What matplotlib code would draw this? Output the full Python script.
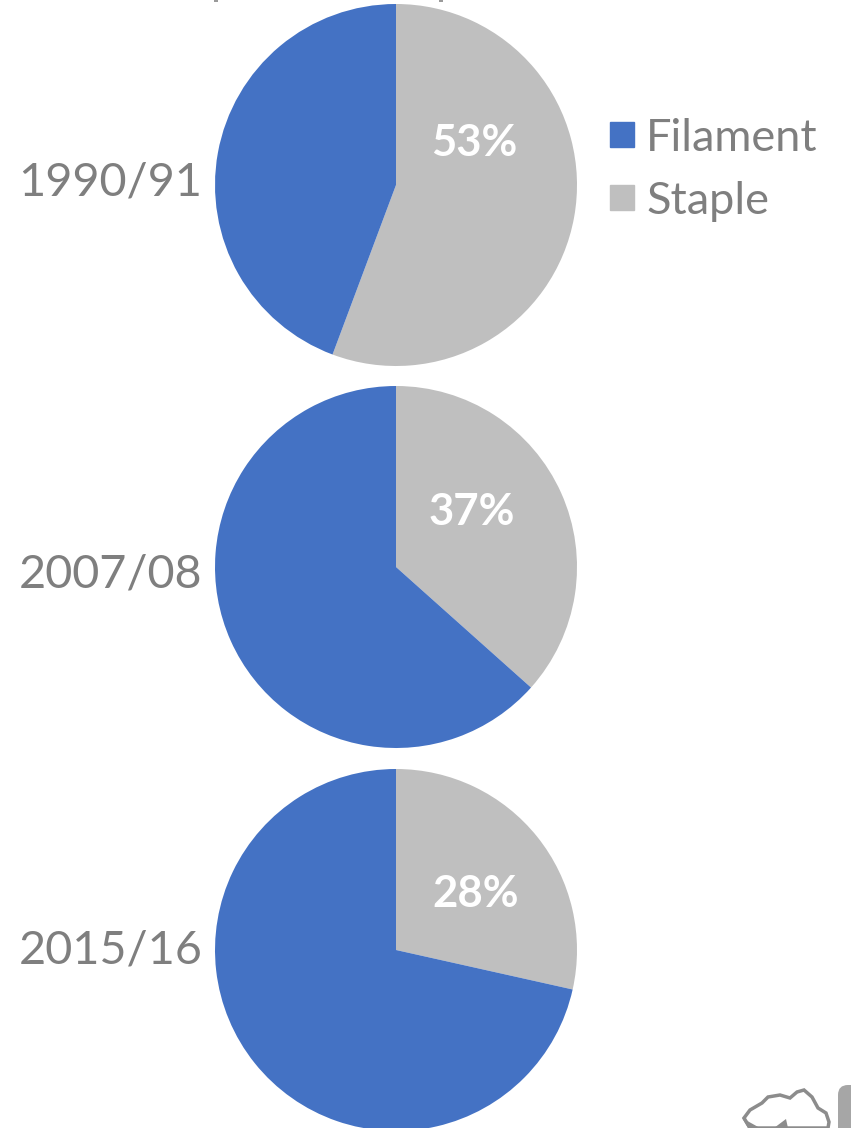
import matplotlib
matplotlib.use("Agg")
import matplotlib.pyplot as plt
from matplotlib.patches import Patch, FancyBboxPatch, Polygon, Rectangle

# Share of staple vs filament per season
years = ["1990/91", "2007/08", "2015/16"]
staple = [55.7, 36.6, 28.5]
filament = [44.3, 63.4, 71.5]
staple_labels = ["53%", "37%", "28%"]
series_names = ["Filament", "Staple"]

BLUE = "#4472C4"
GREY = "#BFBFBF"
TEXT = "#7F7F7F"

W, H = 851, 1128
plt.rcParams["font.family"] = ["Lato", "DejaVu Sans"]

fig = plt.figure(figsize=(W / 100, H / 100), dpi=100)

# pie centres in pixels, radius 181
centres = [(396, 185), (396, 567), (396, 950)]
label_y = [182, 575, 950]
pct_pos = [(474, 143), (472, 512), (476, 894)]
R = 181

for i, year in enumerate(years):
    cx, cy = centres[i]
    ax = fig.add_axes([(cx - R) / W, 1 - (cy + R) / H, 2 * R / W, 2 * R / H])
    # staple first, clockwise from 12 o'clock
    ax.pie([staple[i], filament[i]], colors=[GREY, BLUE], startangle=90,
           counterclock=False, radius=1, wedgeprops={"linewidth": 0})
    ax.set_xlim(-1, 1)
    ax.set_ylim(-1, 1)
    ax.patch.set_alpha(0)
    fig.text(110.5 / W, 1 - label_y[i] / H, year, color=TEXT, fontsize=33.7,
             ha="center", va="center")
    fig.text(pct_pos[i][0] / W, 1 - pct_pos[i][1] / H, staple_labels[i],
             color="white", fontsize=31.5, fontweight="bold",
             ha="center", va="center")

handles = [Patch(color=BLUE), Patch(color=GREY)]
fig.legend(handles, series_names, loc="upper left",
           bbox_to_anchor=(605 / W, 1 - 113 / H), frameon=False, fontsize=32.5,
           labelcolor=TEXT, handlelength=0.54, handleheight=0.5,
           handletextpad=0.27, labelspacing=0.49, borderpad=0.1, borderaxespad=0)

# logo cut off in the bottom right corner, title descenders at the top edge
overlay = fig.add_axes([0, 0, 1, 1])
overlay.set_xlim(0, W)
overlay.set_ylim(H, 0)
overlay.axis("off")
overlay.patch.set_alpha(0)
overlay.add_patch(Rectangle((214, 0), 4, 2, fc="#9A9A9A", ec="none"))
overlay.add_patch(Rectangle((439, 0), 4, 2, fc="#9A9A9A", ec="none"))
overlay.add_patch(FancyBboxPatch((844, 1091), 30, 60, boxstyle="round,pad=6,rounding_size=10",
                                 fc="#A6A6A6", ec="none"))
cotton = [(744, 1118), (750, 1110), (762, 1103), (768, 1097), (780, 1095), (790, 1098),
          (797, 1092), (804, 1090), (812, 1097), (818, 1108), (826, 1113), (829, 1122),
          (828, 1128), (750, 1128)]
overlay.add_patch(Polygon(cotton, closed=True, fc="white", ec="#8C8C8C", lw=2.5))
overlay.add_patch(Polygon([(742, 1118), (760, 1128), (748, 1128)], closed=True, fc="#8C8C8C", ec="none"))
overlay.add_patch(Polygon([(774, 1128), (786, 1119), (788, 1128)], closed=True, fc="#8C8C8C", ec="none"))

fig.savefig("out.png", dpi=100)
